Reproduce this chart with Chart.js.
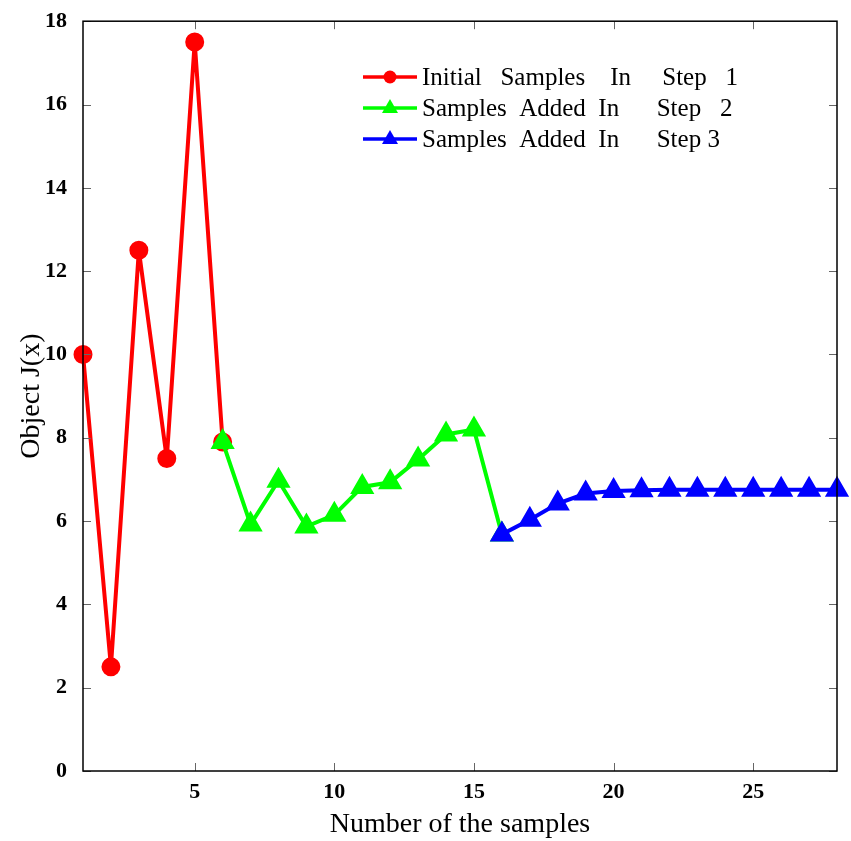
<!DOCTYPE html>
<html>
<head>
<meta charset="utf-8">
<script src="https://cdn.jsdelivr.net/npm/chart.js@4.4.1/dist/chart.umd.min.js"></script>
<style>
  html, body { margin: 0; padding: 0; background: #fff; }
  #wrap { width: 851px; height: 841px; }
</style>
</head>
<body>
<div id="wrap"><canvas id="chart"></canvas></div>
<script>
// valores
const step1X = [1, 2, 3, 4, 5, 6];
const step1Y = [10.0, 2.5, 12.5, 7.5, 17.5, 7.9];
const step2X = [6, 7, 8, 9, 10, 11, 12, 13, 14, 15, 16];
const step2Y = [7.9, 5.92, 6.97, 5.87, 6.15, 6.82, 6.93, 7.48, 8.08, 8.2, 5.68];
const step3X = [16, 17, 18, 19, 20, 21, 22, 23, 24, 25, 26, 27, 28];
const step3Y = [5.68, 6.03, 6.42, 6.66, 6.72, 6.74, 6.75, 6.75, 6.75, 6.75, 6.75, 6.75, 6.75];
const xTicks = [5, 10, 15, 20, 25];
const legendLabels = [
  "Initial   Samples    In     Step   1",
  "Samples  Added  In      Step   2",
  "Samples  Added  In      Step 3"
];

const serif = "'Liberation Serif', 'Times New Roman', serif";
const toPoints = (xs, ys) => xs.map((x, i) => ({ x, y: ys[i] }));

// ticks hacia dentro y marco
const framePlugin = {
  id: "frame",
  afterDatasetsDraw(chart) {
    const { ctx, chartArea: a, scales } = chart;
    const len = 8;
    ctx.save();
    ctx.strokeStyle = "#666";
    ctx.lineWidth = 1;
    ctx.beginPath();
    xTicks.forEach((v) => {
      const px = Math.round(scales.x.getPixelForValue(v)) + 0.5;
      ctx.moveTo(px, a.bottom); ctx.lineTo(px, a.bottom - len);
      ctx.moveTo(px, a.top); ctx.lineTo(px, a.top + len);
    });
    scales.y.ticks.forEach((t) => {
      const py = Math.round(scales.y.getPixelForValue(t.value)) + 0.5;
      ctx.moveTo(a.left, py); ctx.lineTo(a.left + len, py);
      ctx.moveTo(a.right, py); ctx.lineTo(a.right - len, py);
    });
    ctx.stroke();
    ctx.strokeStyle = "#000";
    ctx.lineWidth = 1.5;
    ctx.strokeRect(a.left, a.top, a.right - a.left, a.bottom - a.top);
    ctx.restore();
  },
  afterDraw(chart) {
    // leyenda dentro del area
    const { ctx } = chart;
    const x0 = 363, x1 = 417, tx = 422, y0 = 77, dy = 31;
    ctx.save();
    ctx.font = "25px " + serif;
    ctx.textBaseline = "middle";
    chart.data.datasets.forEach((ds, i) => {
      const y = y0 + i * dy;
      ctx.strokeStyle = ds.borderColor;
      ctx.lineWidth = 3.5;
      ctx.beginPath(); ctx.moveTo(x0, y); ctx.lineTo(x1, y); ctx.stroke();
      ctx.fillStyle = ds.backgroundColor;
      const cx = (x0 + x1) / 2;
      ctx.beginPath();
      if (ds.pointStyle === "circle") {
        ctx.arc(cx, y, 6.5, 0, Math.PI * 2);
      } else {
        ctx.moveTo(cx, y - 9); ctx.lineTo(cx + 8, y + 5); ctx.lineTo(cx - 8, y + 5); ctx.closePath();
      }
      ctx.fill();
      ctx.fillStyle = "#000";
      ctx.fillText(legendLabels[i], tx, y + 1);
    });
    ctx.restore();
  }
};

new Chart(document.getElementById("chart").getContext("2d"), {
  type: "line",
  data: {
    datasets: [
      {
        label: legendLabels[0],
        data: toPoints(step1X, step1Y),
        borderColor: "#ff0000",
        backgroundColor: "#ff0000",
        pointStyle: "circle",
        pointRadius: 7.5,
        borderWidth: 4,
        order: 3
      },
      {
        label: legendLabels[1],
        data: toPoints(step2X, step2Y),
        borderColor: "#00ff00",
        backgroundColor: "#00ff00",
        pointStyle: "triangle",
        pointRadius: 10,
        borderWidth: 4,
        order: 2
      },
      {
        label: legendLabels[2],
        data: toPoints(step3X, step3Y),
        borderColor: "#0000ff",
        backgroundColor: "#0000ff",
        pointStyle: "triangle",
        pointRadius: 10,
        borderWidth: 4,
        order: 1
      }
    ]
  },
  options: {
    responsive: true,
    maintainAspectRatio: false,
    animation: false,
    clip: false,
    layout: { padding: { top: 20, right: 13, left: 0, bottom: 0 } },
    elements: { point: { borderWidth: 0, hoverRadius: 10 }, line: { tension: 0 } },
    plugins: { legend: { display: false }, tooltip: { enabled: false } },
    scales: {
      x: {
        type: "linear",
        min: 1,
        max: 28,
        afterBuildTicks: (s) => { s.ticks = xTicks.map((v) => ({ value: v })); },
        afterFit: (s) => { s.height = 70; },
        grid: { display: false },
        border: { display: false },
        ticks: { color: "#000", font: { family: serif, size: 22, weight: "bold" }, padding: 0, maxRotation: 0 },
        title: { display: true, text: "Number of the samples", color: "#000", font: { family: serif, size: 28 }, padding: { top: 0, bottom: 0 } }
      },
      y: {
        min: 0,
        max: 18,
        afterFit: (s) => { s.width = 83; },
        grid: { display: false },
        border: { display: false },
        ticks: { stepSize: 2, color: "#000", font: { family: serif, size: 22, weight: "bold" }, padding: 8 },
        title: { display: true, text: "Object J(x)", color: "#000", font: { family: serif, size: 28 }, padding: { bottom: 0, top: 15 } }
      }
    }
  },
  plugins: [framePlugin]
});
</script>
</body>
</html>
